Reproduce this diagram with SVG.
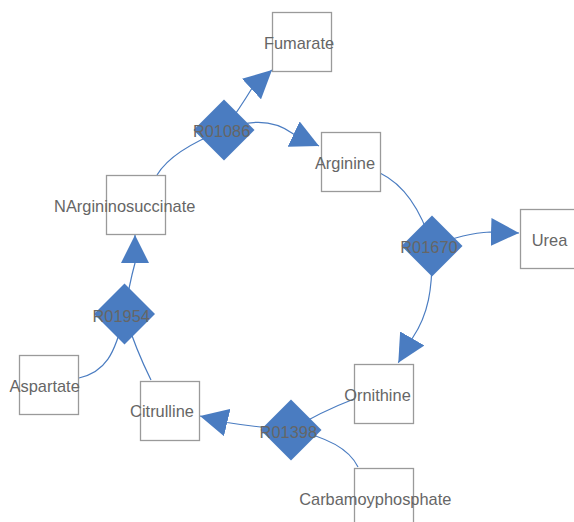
<svg xmlns="http://www.w3.org/2000/svg" width="574" height="522" viewBox="0 0 574 522">
  <style>
    .edge { fill: none; stroke: #4a7cc1; stroke-width: 1.2; }
    .species { fill: #ffffff; stroke: #9a9a9a; stroke-width: 1.3; }
    .reaction { fill: #4a7cc1; stroke: none; }
    .label { font-family: "Liberation Sans", Arial, sans-serif; font-size: 16.4px; fill: #666666; text-anchor: middle; }
  </style>
  <defs>
    <marker id="arrow" markerUnits="userSpaceOnUse" markerWidth="28" markerHeight="28" viewBox="0 0 28 28" refX="28" refY="14" orient="auto">
      <path d="M0,0 L28,14 L0,28 Z" fill="#4a7cc1"/>
    </marker>
    <polygon id="diamond" points="0,-30.5 30.5,0 0,30.5 -30.5,0"/>
  </defs>

  <!-- connectors -->
  <g id="edges">
    <path class="edge" d="M157,175 Q172,150 224,130"/>
    <path class="edge" d="M224,130 Q240,108 251.5,89 L272,70" marker-end="url(#arrow)"/>
    <path class="edge" d="M224,130 C248,120 272,118 293.5,134 L319,146" marker-end="url(#arrow)"/>
    <path class="edge" d="M380,173 Q415,190 432,246"/>
    <path class="edge" d="M432,246 Q465,233 490,232 L519,233" marker-end="url(#arrow)"/>
    <path class="edge" d="M432,246 C433,290 428,315 412.5,338 L398.3,362.7" marker-end="url(#arrow)"/>
    <path class="edge" d="M354,399 Q320,412 291,430"/>
    <path class="edge" d="M358,467 Q345,440 291,430"/>
    <path class="edge" d="M291,430 Q255,427 227,422.5 L200,416" marker-end="url(#arrow)"/>
    <path class="edge" d="M151,380 Q136,350 124.5,314"/>
    <path class="edge" d="M79,378 C105,372 115,355 124.5,314"/>
    <path class="edge" d="M124.5,314 Q129,285 135,263 L135,235" marker-end="url(#arrow)"/>
  </g>

  <!-- species nodes -->
  <g id="Fumarate">
    <rect class="species" x="272.5" y="12.5" width="59" height="59"/>
    <text class="label" x="299" y="48.5">Fumarate</text>
  </g>
  <g id="Arginine">
    <rect class="species" x="321.5" y="132.5" width="59" height="59"/>
    <text class="label" x="345" y="168.5">Arginine</text>
  </g>
  <g id="Urea">
    <rect class="species" x="520.5" y="209.5" width="59" height="59"/>
    <text class="label" x="549.5" y="245.7">Urea</text>
  </g>
  <g id="NArgininosuccinate">
    <rect class="species" x="106.5" y="175.5" width="59" height="59"/>
    <text class="label" x="124.7" y="212.3">NArgininosuccinate</text>
  </g>
  <g id="Aspartate">
    <rect class="species" x="19.5" y="355.5" width="59" height="59"/>
    <text class="label" x="44.7" y="392.3">Aspartate</text>
  </g>
  <g id="Citrulline">
    <rect class="species" x="140.5" y="381.5" width="59" height="59"/>
    <text class="label" x="162" y="416.7">Citrulline</text>
  </g>
  <g id="Ornithine">
    <rect class="species" x="354.5" y="364.5" width="59" height="59"/>
    <text class="label" x="377.5" y="400.7">Ornithine</text>
  </g>
  <g id="Carbamoyphosphate">
    <rect class="species" x="354.5" y="468.5" width="59" height="59"/>
    <text class="label" x="375.3" y="505">Carbamoyphosphate</text>
  </g>

  <!-- reaction nodes -->
  <g id="R01086">
    <use href="#diamond" class="reaction" x="224" y="130"/>
    <text class="label" x="221.6" y="137">R01086</text>
  </g>
  <g id="R01670">
    <use href="#diamond" class="reaction" x="432" y="246"/>
    <text class="label" x="429" y="252.5">R01670</text>
  </g>
  <g id="R01954">
    <use href="#diamond" class="reaction" x="124.5" y="314"/>
    <text class="label" x="121.2" y="322">R01954</text>
  </g>
  <g id="R01398">
    <use href="#diamond" class="reaction" x="291" y="430"/>
    <text class="label" x="288.3" y="438">R01398</text>
  </g>
</svg>
